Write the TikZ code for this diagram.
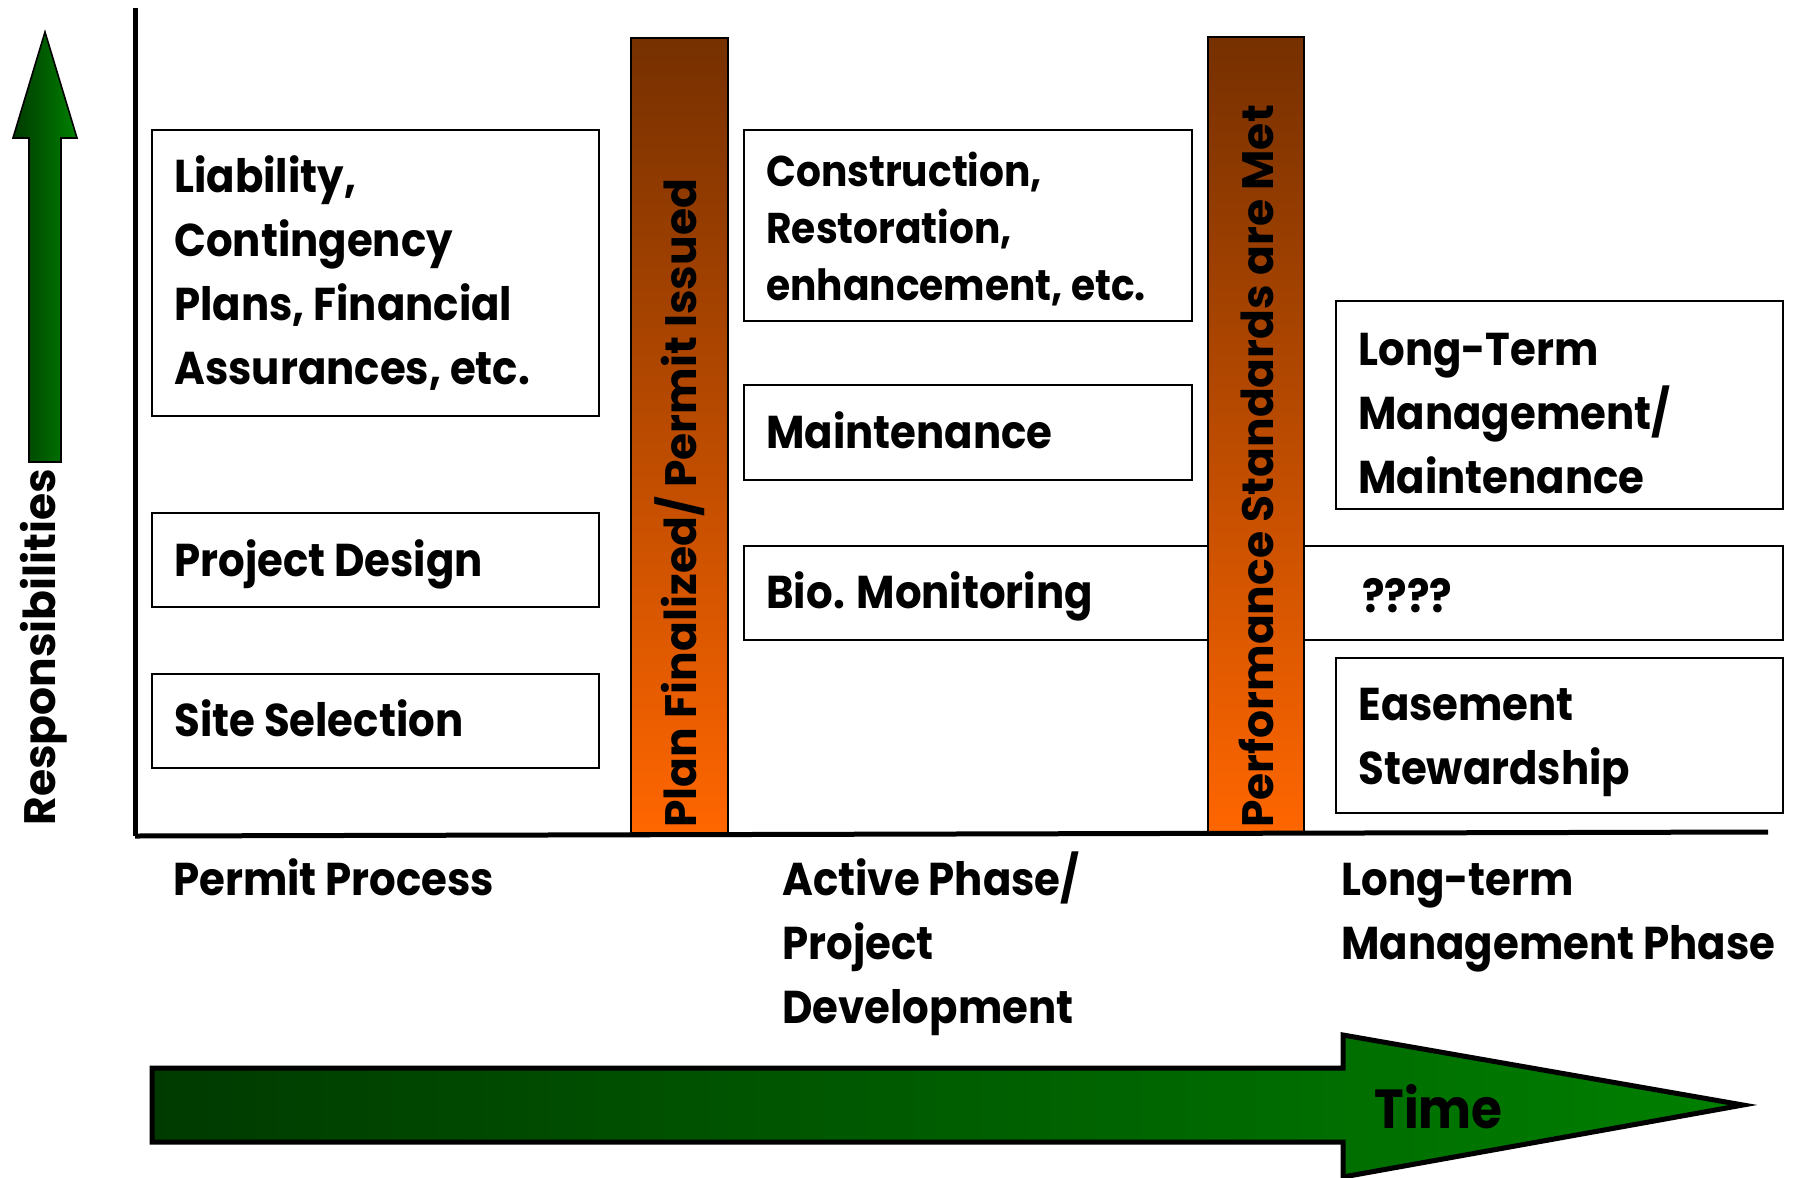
\documentclass[tikz,border=0pt]{standalone}
\usepackage{fontspec}
\newfontfamily\fut{Poppins}[FakeStretch=0.91]
\newfontfamily\futw{Poppins}
\definecolor{barTop}{RGB}{118,48,0}
\definecolor{barBot}{RGB}{255,102,0}
\definecolor{gDark}{RGB}{0,58,0}
\definecolor{gLight}{RGB}{0,128,0}
\begin{document}
\begin{tikzpicture}[x=0.5pt,y=-0.5pt,
  bx/.style={draw=black,line width=1.2pt,fill=white,inner sep=0pt},
  barbox/.style={draw=black,line width=1.2pt,top color=barTop,bottom color=barBot,inner sep=0pt},
  tx/.style={anchor=base west,inner sep=0pt,align=left,font=\fut\bfseries\fontsize{23}{32}\selectfont},
  txs/.style={tx,font=\fut\bfseries\fontsize{21.5}{28.5}\selectfont},
  rt/.style={anchor=west,rotate=90,inner sep=0pt,font=\futw\bfseries\fontsize{22}{28}\selectfont},
  axis/.style={line width=2.5pt,draw=black},
]
\useasboundingbox (0,0) rectangle (1797,1177);
\fill[white] (0,0) rectangle (1797,1177);

% up arrow (Responsibilities)
\draw[line width=0.8pt,left color=gDark,right color=gLight]
  (29,462) -- (61,462) -- (61,138) -- (77,138) -- (45,32) -- (13,138) -- (29,138) -- cycle;
\node[rt] (tresp) at (44,826) {Responsibilities};

% boxes
\node[bx,minimum width=223.5pt,minimum height=143pt] (liab) at (375.5,273) {};
\node[bx,minimum width=223.5pt,minimum height=47pt] (design) at (375.5,560) {};
\node[bx,minimum width=223.5pt,minimum height=47pt] (site) at (375.5,721) {};
\node[bx,minimum width=224pt,minimum height=95.5pt] (constr) at (968,225.5) {};
\node[bx,minimum width=224pt,minimum height=47.5pt] (maint) at (968,432.5) {};
\node[bx,minimum width=519.5pt,minimum height=47pt] (bio) at (1263.5,593) {};
\node[bx,minimum width=223.5pt,minimum height=104pt] (ltm) at (1559.5,405) {};
\node[bx,minimum width=223.5pt,minimum height=77.5pt] (ease) at (1559.5,735.5) {};

% bars
\node[barbox,minimum width=48.5pt,minimum height=397.5pt] (bar1) at (679.5,435.5) {};
\node[barbox,minimum width=48pt,minimum height=398.5pt] (bar2) at (1256,435.5) {};
\node[rt] (tb1) at (bar1.center |- 0,828) {Plan Finalized/ Permit Issued};
\node[rt] (tb2) at (bar2.center |- 0,828) {Performance Standards are Met};

% axes
\coordinate (origin) at (135,836);
\coordinate (ytop) at (135,8);
\coordinate (xend) at (1768,832);
\draw[axis] (ytop) -- (origin);
\draw[axis] (origin) -- (xend);

% box texts (anchor = baseline of last line)
\node[tx] (tliab) at (174,384) {Liability,\\Contingency\\Plans, Financial\\Assurances, etc.};
\node[tx] (tdes) at (174,576) {Project Design};
\node[tx] (tsite) at (174,736) {Site Selection};
\node[txs] (tcon) at (766,300) {Construction,\\Restoration,\\enhancement, etc.};
\node[tx] (tmai) at (766,448) {Maintenance};
\node[tx] (tbio) at (766,608) {Bio. Monitoring};
\node[tx] (tq) at (1362,612) {????};
\node[tx] (tltm) at (1358,493) {Long-Term\\Management/\\Maintenance};
\node[tx] (tease) at (1358,784) {Easement\\Stewardship};

% phase labels
\node[tx] (tpp) at (173,895) {Permit Process};
\node[tx] (tap) at (782,1023) {Active Phase/\\Project\\Development};
\node[tx] (tlt) at (1341,959) {Long-term\\Management Phase};

% time arrow
\draw[line width=2.5pt,left color=gDark,right color=gLight]
  (152,1068) -- (1343,1068) -- (1343,1035) -- (1743,1105) -- (1343,1177) -- (1343,1142) -- (152,1142) -- cycle;
\node[tx,font=\fut\bfseries\fontsize{27.5}{32}\selectfont] (ttime) at (1374,1128) {Time};
\end{tikzpicture}
\end{document}
